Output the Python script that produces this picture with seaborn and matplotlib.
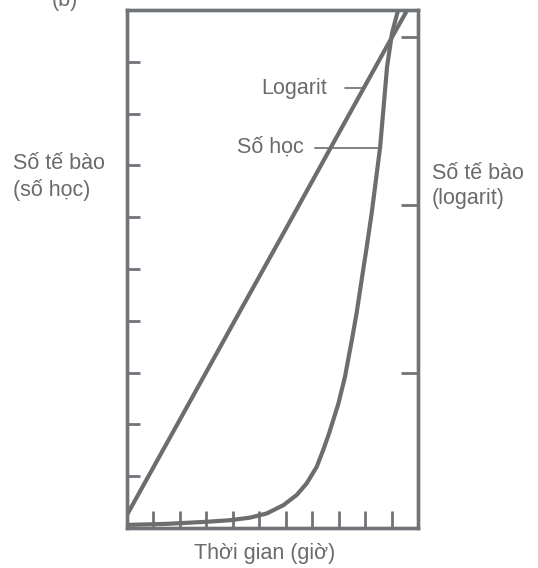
import seaborn as sns
import pandas as pd
import matplotlib
matplotlib.use("Agg")
import matplotlib.pyplot as plt

# số liệu (giờ, số tế bào)
gio_so_hoc = [0, 1.5, 3.01, 3.89, 4.65, 5.28, 5.91, 6.42, 6.79, 7.17, 7.42, 7.64, 7.99,
              8.24, 8.5, 8.68, 8.87, 9.06, 9.25, 9.41, 9.57, 9.83, 10.02, 10.25]
so_hoc = [0.06, 0.08, 0.12, 0.15, 0.2, 0.28, 0.44, 0.64, 0.86, 1.18, 1.51, 1.83, 2.4,
          2.92, 3.63, 4.15, 4.79, 5.42, 6.08, 6.72, 7.36, 8.9, 9.56, 10.0]

gio_logarit = [0, 2, 4, 6, 8, 10, 10.6]
logarit = [1.44, 5.3, 19.6, 72, 267, 986, 1450]

ticks_gio = list(range(1, 11))
ticks_trai = list(range(1, 10))
ticks_phai = [10, 100, 1000]

df_sh = pd.DataFrame({"gio": gio_so_hoc, "so": so_hoc})
df_lg = pd.DataFrame({"gio": gio_logarit, "so": logarit})

sns.set_style("white")
plt.rcParams["font.family"] = ["Liberation Sans", "DejaVu Sans"]

W, H = 538, 568
xam = "#707478"
mau_duong = "#6d6d6d"
mau_chu = "#6a6a6a"

fig = plt.figure(figsize=(W / 100, H / 100), dpi=100)
ax = fig.add_axes([127 / W, 1 - 528 / H, 291 / W, 518 / H])
ax.set_xlim(0, 11)
ax.set_ylim(0, 10)

ax2 = ax.twinx()
ax2.set_yscale("log")
ax2.set_ylim(10 ** 0.08, 10 ** 3.16)

sns.lineplot(data=df_sh, x="gio", y="so", ax=ax, color=mau_duong, linewidth=3.0,
             sort=False, estimator=None, solid_joinstyle="round")
sns.lineplot(data=df_lg, x="gio", y="so", ax=ax2, color=mau_duong, linewidth=3.0,
             sort=False, estimator=None)

for a in (ax, ax2):
    a.set_xlabel("")
    a.set_ylabel("")
    for s in a.spines.values():
        s.set_color(xam)
        s.set_linewidth(2.4)
        s.set_visible(True)

ax.set_xticks(ticks_gio)
ax.set_yticks(ticks_trai)
ax.tick_params(axis="x", direction="in", length=12, width=2, color=xam,
               bottom=True, labelbottom=False)
ax.tick_params(axis="y", direction="in", length=9, width=2, color=xam,
               left=True, labelleft=False)
ax2.set_yticks(ticks_phai)
ax2.minorticks_off()
ax2.tick_params(axis="y", direction="in", length=12, width=2, color=xam,
                right=True, labelright=False)

# nhãn chỉ dẫn
ax.text(7.55, 8.49, "Logarit", ha="right", va="center", fontsize=15.5, color=mau_chu)
ax.plot([8.23, 8.95], [8.49, 8.49], color=mau_duong, linewidth=1.2)
ax.text(6.7, 7.35, "Số học", ha="right", va="center", fontsize=15.5, color=mau_chu)
ax.plot([7.1, 9.6], [7.33, 7.33], color=mau_duong, linewidth=1.2)

fig.text(13 / W, 1 - 177 / H, "Số tế bào\n(số học)", ha="left", va="center",
         fontsize=15.5, color=mau_chu, linespacing=1.35)
fig.text(432 / W, 1 - 186 / H, "Số tế bào\n(logarit)", ha="left", va="center",
         fontsize=15.5, color=mau_chu, linespacing=1.25)
fig.text(265 / W, 1 - 553 / H, "Thời gian (giờ)", ha="center", va="center",
         fontsize=15.5, color=mau_chu)
fig.text(65 / W, 1 - 6 / H, "(b)", ha="center", va="baseline", fontsize=15.5, color=mau_chu)

fig.savefig("out.png", dpi=100, facecolor="white")
